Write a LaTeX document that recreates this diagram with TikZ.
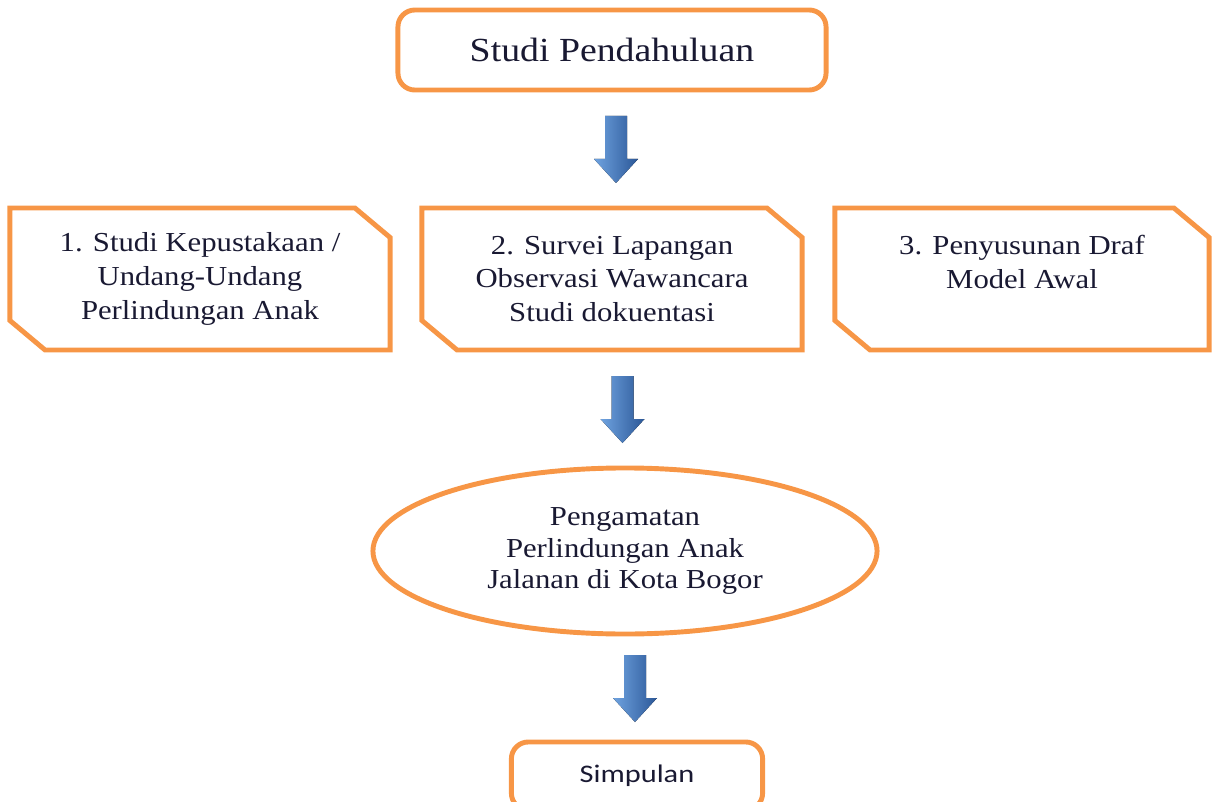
\documentclass[tikz,border=0pt]{standalone}
\usepackage{fontspec}
\setmainfont{Liberation Serif}[FakeStretch=1.12]
\newfontfamily\simpfont{Carlito}[FakeStretch=1.2]
\usetikzlibrary{shapes.geometric,shapes.misc,calc}
\definecolor{boxorange}{HTML}{F79646}
\definecolor{txtnavy}{RGB}{25,25,50}
\definecolor{arrowlight}{HTML}{6FA3E0}
\definecolor{arrowdark}{HTML}{2B5797}
\tikzset{
    roundbox/.style={draw=boxorange, line width=3.5pt, rounded corners=12pt, text=txtnavy},
    snipbox/.style={draw=boxorange, line width=3.5pt, chamfered rectangle,
        chamfered rectangle corners={north east,south west},
        chamfered rectangle xsep=0.75cm, chamfered rectangle angle=50,
        minimum width=9.5cm, minimum height=3.55cm, inner sep=0pt,
        align=center, text=txtnavy, font=\fontsize{19.5}{24}\selectfont},
    blockarrow/.style={left color=arrowlight, right color=arrowdark}
}
\begin{document}
\begin{tikzpicture}[x=0.025cm, y=-0.025cm]
    \useasboundingbox (0,0) rectangle (1213,802);

    % top
    \node[roundbox, minimum width=10.7cm, minimum height=2cm,
        font=\fontsize{24}{28}\selectfont] (pendahuluan) at (612,50) {Studi Pendahuluan};

    % three steps
    \node[snipbox] (pustaka) at (200,279)
        {1. Studi Kepustakaan /\\Undang-Undang\\Perlindungan Anak};
    \node[snipbox] (survei) at (612,279)
        {2. Survei Lapangan\\Observasi Wawancara\\Studi dokuentasi};
    \node[snipbox, minimum width=9.35cm] (draf) at (1022,279)
        {3. Penyusunan Draf\\Model Awal\\\mbox{}};

    % observation
    \node[ellipse, draw=boxorange, line width=3.5pt, minimum width=12.6cm,
        minimum height=4.15cm, align=center, text=txtnavy,
        font=\fontsize{19.5}{22.5}\selectfont] (amatan) at (625,551)
        {Pengamatan\\Perlindungan Anak\\Jalanan di Kota Bogor};

    % bottom
    \node[roundbox, minimum width=6.28cm, minimum height=1.7cm,
        font=\simpfont\fontsize{18}{21}\selectfont] (simpulan) at (637,776) {Simpulan};

    % block arrows between the stages
    \foreach \a/\b in {pendahuluan/survei, survei/amatan, amatan/simpulan}{
        \coordinate (m) at ($(\a.south)!0.5!(\b.north)+(4,0)$);
        \fill[blockarrow, shift={(m)}] (-11,-33) -- (11,-33) -- (11,10) -- (22,10)
            -- (0,34) -- (-22,10) -- (-11,10) -- cycle;
    }
\end{tikzpicture}
\end{document}
